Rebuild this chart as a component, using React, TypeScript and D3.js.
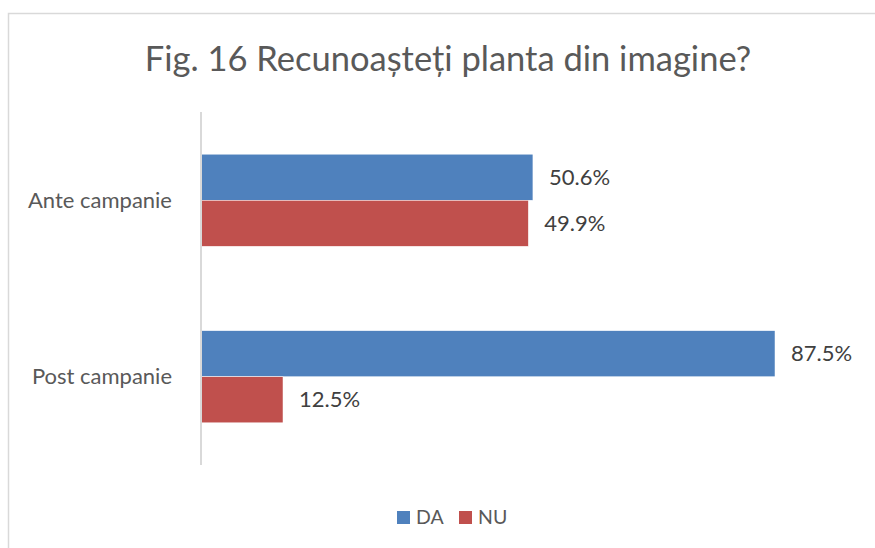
import React from 'react';
import * as d3 from 'd3';

const title = "Fig. 16 Recunoașteți planta din imagine?";
const categories = ["Ante campanie", "Post campanie"];
const seriesNames = ["DA", "NU"];
const daValues = [50.6, 87.5];
const nuValues = [49.9, 12.5];
const colors = ["#4F81BD", "#C0504D"];

const App = () => {
  const width = 875, height = 548;
  const font = "Lato, 'Open Sans', sans-serif";
  const values = [daValues, nuValues];

  // plot area
  const x = d3.scaleLinear().domain([0, 100]).range([201, 857]);
  const y = d3.scaleBand<string>()
    .domain(categories)
    .range([112, 465])
    .paddingInner(0.478)
    .paddingOuter(0.239);
  const inner = d3.scaleBand<string>()
    .domain(seriesNames)
    .range([0, y.bandwidth()]);

  const fmt = (v: number) => v.toFixed(1) + "%";

  return <div style={{position: "absolute", left: 0, top: 0}}>
    <svg width={width} height={height} style={{display: "block", fontFamily: font}}>
      <rect x={8.5} y={13.5} width={900} height={600} fill="white" stroke="#d9d9d9" strokeWidth={1.5} />
      <text x={448} y={71} textAnchor="middle" fontSize={34.5} fill="#595959">{title}</text>

      {categories.map((c, i) =>
        <g key={c}>
          {seriesNames.map((s, j) => {
            const v = values[j][i];
            const yy = (y(c) as number) + (inner(s) as number);
            return <g key={s}>
              <rect x={x(0)} y={yy} width={x(v) - x(0)} height={inner.bandwidth()}
                fill={colors[j]} stroke="white" strokeWidth={0.5} />
              <text x={x(v) + 16} y={yy + inner.bandwidth() / 2} dy="0.35em"
                fontSize={22} fill="#404040">{fmt(v)}</text>
            </g>;
          })}
          <text x={172} y={(y(c) as number) + y.bandwidth() / 2} dy="0.35em"
            textAnchor="end" fontSize={22} fill="#595959">{c}</text>
        </g>
      )}

      <line x1={x(0)} x2={x(0)} y1={112} y2={465} stroke="#d9d9d9" strokeWidth={2} />

      {seriesNames.map((s, j) => {
        const lx = 397 + j * 62;
        return <g key={s}>
          <rect x={lx} y={511} width={13} height={13} fill={colors[j]} />
          <text x={lx + 19} y={517.5} dy="0.35em" fontSize={19.5} fill="#595959">{s}</text>
        </g>;
      })}
    </svg>
  </div>;
};

export default App;
